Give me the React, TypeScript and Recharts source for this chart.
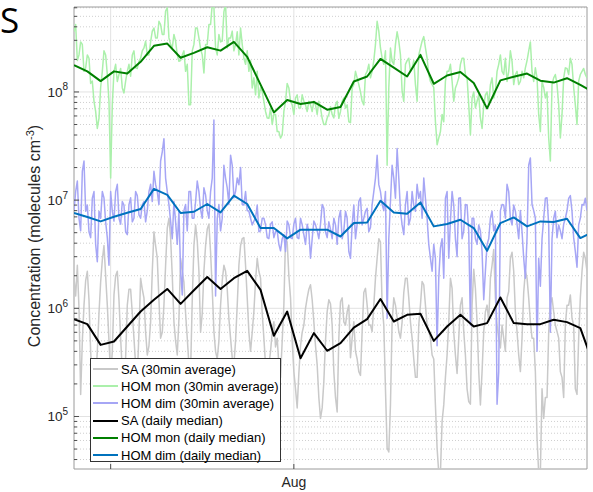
import React from 'react';
import { ComposedChart, Line, XAxis, YAxis, CartesianGrid, ReferenceArea, Legend } from 'recharts';

const FONT = '"Liberation Sans", Arial, Helvetica, sans-serif';

// x axis: days since the first daily median (Jul 15, 12:00)
const X_DOMAIN: [number, number] = [0, 38.5];
const X_TICKS = [2.75, 16.5];
const X_TICK_LABELS = ['', 'Aug'];
const SAMPLE_STEP_DAYS = 0.25; // spacing of the main samples; the "Mid" arrays sit halfway between them

const Y_DOMAIN: [number, number] = [3.27e4, 6.1e8];
const Y_MAJOR_TICKS = [1e5, 1e6, 1e7, 1e8];
const Y_MAJOR_EXPONENTS = ['5', '6', '7', '8'];
const Y_MINOR_TICKS = [
  4e4, 5e4, 6e4, 7e4, 8e4, 9e4,
  2e5, 3e5, 4e5, 5e5, 6e5, 7e5, 8e5, 9e5,
  2e6, 3e6, 4e6, 5e6, 6e6, 7e6, 8e6, 9e6,
  2e7, 3e7, 4e7, 5e7, 6e7, 7e7, 8e7, 9e7,
  2e8, 3e8, 4e8, 5e8, 6e8,
];

// 30 min averages
const saHalfHourly = [
  1.9e6, 2.5e6, 1.6e5, 1.07e6, 2.2e6, 4e5, 2.6e5, 4e5, 1.75e6, 3.8e6,
  1.07e6, 2.3e5, 1.33e6, 2.2e6, 5.3e5, 1.8e5, 1.07e6, 1.5e6, 5.3e5, 2.3e5,
  1.9e6, 1.25e6, 3.7e5, 7.5e5, 5.1e6, 2.9e6, 5.3e5, 1.07e6, 5.5e6, 4.5e6,
  7.5e5, 3.7e5, 2.9e6, 1.75e6, 5.3e5, 2.6e5, 3.8e6, 4.2e6, 6e5, 2.2e6,
  5.4e6, 3.3e6, 6.1e5, 3.4e5, 1.07e6, 2.5e6, 1.5e6, 5.3e5, 3.0e5, 1.07e6,
  3.8e6, 4.5e6, 1.25e6, 4e5, 9.3e5, 2.9e6, 1.9e6, 5.3e5, 2.6e5, 4e5,
  7.5e5, 5.3e5, 2.3e5, 1.07e6, 4.1e6, 1.25e6, 2.6e5, 1.2e5, 4.5e5, 7e5,
  1.25e6, 1.65e6, 7.5e5, 3e5, 9.6e4, 2.1e5, 9.3e5, 1.1e6, 2.6e5, 1.1e5,
  1.15e6, 7.5e5, 9.3e5, 3.5e5, 7.5e5, 3.4e5, 2.4e5, 1.4e6, 1.07e6, 7e5,
  1.07e6, 2.9e6, 4.1e6, 7e5, 5.1e4, 1.28e5, 1.25e6, 8.2e5, 5.3e5, 1.4e6,
  1.9e6, 7.5e5, 3.4e5, 2.3e5, 1.07e6, 1.65e6, 7e5, 5.3e5, 3.4e5, 5.1e4,
  3.0e4, 1.28e5, 3.7e5, 1.9e6, 6e5, 2.5e5, 1.07e6, 6.1e5, 1.8e5, 1.3e5,
  2.3e6, 7.5e5, 1.28e5, 6.1e5, 1.07e6, 1.9e6, 3.5e6, 7e5, 4.3e5, 5.3e5,
  1.25e6, 2.9e6, 2.2e6, 6.1e5, 2.6e5, 1.4e6, 1.9e6, 7.5e5, 5.3e5, 6.3e4,
  3.0e4, 9.6e4, 1.5e5, 1.1e6, 9.3e5, 6.1e5, 2.6e5, 1.5e5, 1.07e6, 1.33e6,
  7e5, 1.6e5, 1.25e6, 3.3e6, 2.2e6,
];
const saHalfHourlyMid = [
  1.3e6, 1.0e6, 5e5, 1.8e6, 1.2e6, 2.0e5, 2.2e5, 9e5, 2.8e6, 2.0e6,
  5e5, 4e5, 2.0e6, 1.2e6, 2.6e5, 3.5e5, 1.5e6, 9e5, 3.0e5, 6e5,
  1.5e6, 6e5, 4.5e5, 2.2e6, 3.8e6, 1.2e6, 6e5, 2.5e6, 6.8e6, 2.0e6,
  5e5, 8e5, 2.2e6, 9e5, 3.0e5, 1.2e6, 5.9e6, 2.2e6, 9e5, 3.8e6,
  6.0e6, 1.5e6, 4e5, 5e5, 1.8e6, 2.2e6, 8e5, 3.5e5, 5e5, 2.5e6,
  4.4e6, 2.5e6, 6e5, 6e5, 1.8e6, 2.2e6, 9e5, 3.0e5, 3.0e5, 6e5,
  4.4e5, 3.0e5, 5e5, 4.5e6, 2.0e6, 5e5, 1.8e5, 2.5e5, 6e5, 1.0e6,
  1.5e6, 1.2e6, 4.5e5, 1.5e5, 1.2e5, 5e5, 1.2e6,
  7e5, 1.5e5, 5.3e5, 1.25e6, 7e5, 1.07e6, 5.3e5, 4e5, 2.6e5, 6.1e5,
  1.53e6, 7e5, 6.1e5, 1.9e6, 4.4e6, 1.07e6, 1.8e5, 4.7e4, 7.5e5, 1.07e6,
  6.1e5, 7.5e5, 1.9e6, 1.25e6, 5.3e5, 2.3e5, 7e5, 1.77e6, 1.07e6, 6.1e5,
  3.7e5, 1.27e5, 3.0e4, 9e4, 2.3e5, 7.5e5, 1.53e6, 3.7e5,
  5.3e5, 1.25e6, 3.7e5, 1.37e5, 1.07e6, 1.53e6, 2.6e5, 2.6e5, 9.3e5, 7.5e5,
  2.5e6, 1.25e6, 5.3e5, 7e5, 4e5, 1.43e6, 3.3e6, 9.3e5, 3.7e5, 5.3e5,
  2.2e6, 1.25e6, 5.3e5, 2.6e5, 3.0e4, 1.8e5, 1.5e5, 6e5, 1.25e6, 7e5,
  5.3e5, 2.3e5, 7e5, 1.07e6, 8.1e5, 1.8e5, 5.3e5, 2.2e6, 2.9e6,
];

const homMonHalfHourly = [
  3.6e8, 1.95e8, 2.9e8, 1.55e8, 2.2e8, 1.2e8, 8.2e7, 4.6e7, 1.1e8, 2.4e8,
  1.45e8, 1.6e7, 1.55e8, 1.25e8, 1.65e8, 9.8e7, 1.55e8, 1.4e8, 2.4e8, 1.65e8,
  2.05e8, 2.55e8, 2.2e8, 2.9e8, 3.9e8, 3.15e8, 4.2e8, 3.4e8, 6e8, 2.75e8,
  3.4e8, 2.2e8, 1.95e8, 2.4e8, 1.8e8, 7.6e7, 2.75e8, 3.9e8, 2.5e8, 1.5e8,
  2.75e8, 4.2e8, 6.1e8, 2.2e8, 2.9e8, 5.5e8, 2.55e8, 3.15e8, 2.4e8, 3.6e8,
  3.9e8, 2.05e8, 2.4e8, 1.95e8, 1.35e8, 1.55e8, 1.1e8, 8.2e7, 5.75e7, 7.1e7,
  6.2e7, 4.3e7, 3.75e7, 6.6e7, 1.2e8, 8.2e7, 6.2e7, 9.4e7, 7.1e7, 8.2e7,
  6.6e7, 7.6e7, 8.2e7, 6.2e7, 7.1e7, 5e7, 5.75e7, 7.3e7, 5.75e7, 8.2e7,
  6.6e7, 8.8e7, 7.6e7, 5.2e7, 1.17e8, 1.35e8, 1.0e8, 7.6e7, 1.55e8, 1.35e8,
  1.95e8, 4.5e8, 2.55e8, 1.8e8, 2.1e7, 2.55e8, 1.8e8, 3.6e8, 2.2e8, 8.2e7,
  1.95e8, 1.55e8, 1.95e8, 8.2e7, 2.55e8, 3.25e8, 2.05e8, 1.25e8, 1.1e8, 3.25e7,
  4.3e7, 5.3e7, 1.55e8, 1.8e8, 8.2e7, 1.2e8, 1.8e8, 2.05e8, 1.35e8, 4e7,
  1.0e8, 8.2e7, 5.75e7, 7.6e7, 1.0e8, 1.17e8, 8.8e7, 1.55e8, 2.2e8, 1.45e8,
  1.25e8, 2.4e8, 1.17e8, 1.55e8, 1.25e8, 1.35e8, 1.95e8, 2.9e8, 1.25e8, 1.35e8,
  4.3e7, 1.1e8, 1.0e8, 2.3e7, 1.35e8, 1.17e8, 3.75e7, 1.35e8, 1.65e8, 2.05e8,
  1.1e8, 5e7, 1.45e8, 1.65e8, 1.35e8,
];
const homMonHalfHourlyMid = [
  4.2e8, 2.2e8, 2.75e8, 1.67e8, 2.05e8, 1.26e8, 6.6e7, 5.7e7, 1.55e8, 2.2e8,
  8.2e7, 7.6e7, 1.8e8, 1.45e8, 1.09e8, 1.26e8, 1.8e8, 2.2e8, 1.67e8, 1.92e8,
  2.4e8, 2.95e8, 2.2e8, 3.65e8, 3.16e8, 4.5e8, 3.4e8, 5.6e8, 3.16e8, 2.55e8,
  2.95e8, 1.92e8, 2.2e8, 1.55e8, 7.6e7, 2.4e8, 3.9e8, 3.16e8, 2.2e8, 2.75e8,
  4.2e8, 6.5e8, 2.55e8, 3.4e8, 2.95e8, 6.5e8, 3.16e8, 3.65e8, 2.75e8, 2.2e8,
  2.75e8, 1.8e8, 1.55e8, 1.09e8, 9.4e7, 8.8e7, 1.01e8, 6.6e7, 5.7e7, 5.0e7,
  6.2e7, 4.3e7, 4.0e7, 8.2e7, 1.09e8, 7.6e7, 8.8e7, 7.1e7, 9.4e7, 7.6e7,
  8.2e7, 6.6e7, 7.6e7, 8.2e7, 5.7e7, 5.0e7, 6.2e7,
  6.2e7, 7.6e7, 5.7e7, 8.2e7, 7.1e7, 5.3e7, 1.09e8, 1.55e8, 1.17e8, 8.2e7,
  1.45e8, 1.8e8, 1.55e8, 2.75e8, 3.65e8, 2.05e8, 2.4e8, 1.09e8, 1.92e8, 2.75e8,
  2.95e8, 1.01e8, 1.8e8, 2.05e8, 1.67e8, 1.17e8, 2.2e8, 2.95e8, 2.55e8, 1.45e8,
  1.17e8, 5.3e7, 3.75e7, 6.2e7, 1.26e8, 1.55e8, 1.26e8, 1.09e8,
  1.35e8, 2.05e8, 1.45e8, 7.6e7, 8.8e7, 7.1e7, 9.4e7, 4.6e7, 9.4e7, 7.6e7,
  1.35e8, 1.01e8, 1.8e8, 1.55e8, 2.05e8, 1.55e8, 1.92e8, 1.45e8, 1.17e8, 1.55e8,
  1.67e8, 2.4e8, 1.55e8, 1.67e8, 6.2e7, 1.26e8, 8.8e7, 3.75e7, 1.17e8, 1.45e8,
  7.6e7, 6.2e7, 1.67e8, 1.45e8, 1.8e8, 7.6e7, 1.26e8, 1.55e8, 1.45e8,
];

const homDimHalfHourly = [
  8.0e6, 1.5e7, 5.2e6, 2.3e7, 9e6, 4.5e6, 1.2e7, 2.7e6, 6.8e6, 1.05e7,
  4.5e6, 1.2e7, 6.4e6, 1.4e7, 6.0e6, 9e6, 4.8e6, 1.05e7, 6.8e6, 1.1e7,
  6.8e6, 9.7e6, 8e6, 1.4e7, 1.85e7, 1.2e7, 2.3e7, 3.7e7, 1.2e7, 6.4e6,
  9.7e6, 3.9e6, 2.2e6, 8e6, 5.2e6, 1.2e7, 6.8e6, 1.5e7, 8.2e6, 1.3e7,
  8e6, 1.2e7, 5.5e7, 6.8e6, 5.2e6, 2.1e7, 1.3e7, 2.6e7, 1.05e7, 1.6e7,
  2e7, 9e6, 8e6, 6.8e6, 6.4e6, 9e6, 5.2e6, 6.8e6, 4.5e6, 6e6,
  4.5e6, 5.2e6, 3.4e6, 4.8e6, 6.4e6, 4.5e6, 6e6, 4.5e6, 6.8e6, 4.8e6,
  6e6, 2.9e6, 6.4e6, 5.2e6, 6e6, 8.4e6, 4.5e6, 5.4e6, 6.8e6, 3.9e6,
  8e6, 5.2e6, 6.8e6, 2.9e6, 9e6, 6e6, 1.05e7, 6.8e6, 8.4e6, 5.6e6,
  1.2e7, 2.6e7, 1.2e7, 8e6, 8.1e5, 9.7e6, 1.6e7, 3.0e7, 8e6, 4.8e6,
  1.2e7, 6.8e6, 9e6, 1.4e7, 1.2e7, 1.6e7, 6.8e6, 2.9e6, 3.9e6, 4.5e5,
  3.6e6, 1.9e6, 1.2e7, 6.4e6, 9e6, 3e6, 1.05e7, 5.2e6, 9e6, 7e5,
  6.8e6, 3.9e6, 5.2e6, 1.2e6, 3.9e6, 6.8e6, 5.2e6, 1.3e5, 8e6, 9e6,
  1.4e7, 6.8e6, 9e6, 6e6, 8e6, 2.9e6, 4.5e6, 2.45e7, 8e6, 4e5,
  1.6e6, 6.8e6, 1.05e7, 6e5, 6.8e6, 4.5e6, 5.2e6, 6e6, 8e6, 1.1e7,
  4.5e6, 2.4e6, 6.8e6, 9e6, 8e6,
];
const homDimHalfHourlyMid = [
  1.2e7, 6.8e6, 1.84e7, 7.9e6, 5.1e6, 1.04e7, 3.9e6, 7.9e6, 1.2e7, 6.3e6,
  2.5e6, 7.9e6, 1.2e7, 6.8e6, 9.7e6, 5.1e6, 9.1e6, 6.3e6, 1.2e7, 7.3e6,
  9.1e6, 6.3e6, 1.2e7, 9.7e6, 1.39e7, 9.1e6, 2.8e7, 1.6e7, 9.1e6, 4.4e6,
  6.3e6, 7.9e6, 1.33e6, 9.1e6, 1.2e7, 6.8e6, 9.7e6, 1.2e7, 6.8e6, 1.12e7,
  6.8e6, 1.6e7, 1.3e6, 9.1e6, 6.8e6, 1.6e7, 9.1e6, 2.1e7, 1.2e7, 1.39e7,
  9.1e6, 1.2e7, 7.9e6, 5.9e6, 6.8e6, 5.1e6, 6.8e6, 5.9e6, 4.4e6, 6.3e6,
  5.1e6, 3.9e6, 4.4e6, 3.35e6, 5.9e6, 4.4e6, 6.8e6, 4.4e6, 5.9e6, 3.9e6,
  5.1e6, 4.4e6, 5.9e6, 4.4e6, 9.1e6, 5.1e6, 6.3e6,
  4.4e6, 5.9e6, 6.8e6, 4.4e6, 7.9e6, 3.35e6, 5.9e6, 4.4e6, 9.7e6, 5.9e6,
  7.9e6, 5.1e6, 9.1e6, 1.6e7, 1.39e7, 9.1e6, 1.2e7, 4.4e6, 2.1e7, 1.04e7,
  1.6e7, 5.9e6, 9.1e6, 5.9e6, 1.2e7, 7.9e6, 1.04e7, 6.8e6, 1.04e7, 3.9e6,
  2.2e6, 2.9e6, 1.9e6, 4.4e6, 1.04e7, 2.9e6, 1.2e7, 4.4e6,
  1.04e7, 4.4e6, 9.1e6, 5.1e6, 6.8e6, 4.4e6, 5.9e6, 3.35e6, 2.2e6, 4.4e6,
  7.9e6, 5.9e6, 2.6e5, 9.1e6, 6.8e6, 1.2e7, 5.9e6, 7.9e6, 4.4e6, 5.1e6,
  1.9e6, 2.1e7, 9.1e6, 6.8e6, 2.9e6, 4.4e6, 1.04e7, 5.9e6, 4.4e6, 7.9e6,
  5.9e6, 4.4e6, 6.8e6, 1.04e7, 7.9e6, 3.35e6, 5.9e6, 9.1e6, 1.04e7,
];

// daily medians (one per day, at noon)
const saDaily = [
  7.94e5, 7.14e5, 4.59e5, 4.93e5, 6.79e5, 9.34e5, 1.2e6, 1.51e6, 1.1e6, 1.47e6,
  1.95e6, 1.51e6, 1.9e6, 2.22e6, 1.48e6, 5.57e5, 9.34e5, 3.46e5, 5.9e5, 4.05e5,
  4.77e5, 6.64e5, 7.94e5, 1.22e6, 7.55e5, 8.71e5, 8.9e5, 5.0e5, 6.79e5, 8.71e5,
  6.79e5, 7.3e5, 1.26e6, 7.3e5, 7.14e5, 7.14e5, 7.83e5, 7.45e5, 6.56e5, 3.0e5,
];
const homMonDaily = [
  1.77e8, 1.55e8, 1.26e8, 1.55e8, 1.48e8, 1.9e8, 2.67e8, 2.8e8, 2.07e8, 2.3e8,
  2.59e8, 2.41e8, 2.9e8, 2.11e8, 1.17e8, 6.47e7, 8.43e7, 7.74e7, 8.08e7, 6.85e7,
  7.26e7, 1.25e8, 1.39e8, 2.02e8, 1.68e8, 1.39e8, 2.2e8, 1.19e8, 1.42e8, 1.53e8,
  1.21e8, 7.05e7, 1.28e8, 1.38e8, 1.48e8, 1.27e8, 1.22e8, 1.34e8, 1.16e8, 9.9e7,
];
const homDimDaily = [
  7.6e6, 6.98e6, 6.36e6, 7.02e6, 7.64e6, 8.27e6, 1.27e7, 1.12e7, 7.6e6, 7.81e6,
  9.21e6, 7.7e6, 1.1e7, 9.21e6, 5.52e6, 5.52e6, 4.43e6, 5.33e6, 5.33e6, 5.33e6,
  4.61e6, 6.14e6, 6.22e6, 9.87e6, 7.7e6, 7.48e6, 9.53e6, 5.72e6, 6.01e6, 6.59e6,
  5.52e6, 3.4e6, 6.14e6, 6.92e6, 5.72e6, 6.36e6, 6.27e6, 6.73e6, 4.46e6, 5.13e6,
];

// rows: main samples interleaved with the halfway samples
function halfHourlyRows(main: number[], mid: number[]) {
  const rows: { t: number; v: number }[] = [];
  main.forEach((v, i) => {
    rows.push({ t: i * SAMPLE_STEP_DAYS, v });
    if (mid[i] !== undefined) rows.push({ t: (i + 0.5) * SAMPLE_STEP_DAYS, v: mid[i] });
  });
  return rows;
}
function dailyRows(values: number[]) {
  return values.map((v, k) => ({ t: k, v }));
}

const SERIES = [
  { key: 'sa30', name: 'SA (30min average)', color: '#c9c9c9', width: 1.5, rows: halfHourlyRows(saHalfHourly, saHalfHourlyMid) },
  { key: 'mon30', name: 'HOM mon (30min average)', color: '#abf0ab', width: 1.5, rows: halfHourlyRows(homMonHalfHourly, homMonHalfHourlyMid) },
  { key: 'dim30', name: 'HOM dim (30min average)', color: '#a6a6f5', width: 1.5, rows: halfHourlyRows(homDimHalfHourly, homDimHalfHourlyMid) },
  { key: 'saD', name: 'SA (daily median)', color: '#000000', width: 2, rows: dailyRows(saDaily) },
  { key: 'monD', name: 'HOM mon (daily median)', color: '#007f00', width: 2, rows: dailyRows(homMonDaily) },
  { key: 'dimD', name: 'HOM dim (daily median)', color: '#0072bd', width: 2, rows: dailyRows(homDimDaily) },
];

const TICK_COLOR = '#4d4d4d';

function LeftTick(props: any) {
  const { x, y, payload } = props;
  const idx = Y_MAJOR_TICKS.indexOf(payload.value);
  const major = idx >= 0;
  return (
    <g>
      <line x1={x} x2={x + (major ? 5 : 3)} y1={y} y2={y} stroke={TICK_COLOR} strokeWidth={1} />
      {major && (
        <text x={x - 6} y={y + 5} textAnchor="end" fontSize={13.5} fill="#262626" fontFamily={FONT}>
          10<tspan dy={-6.5} fontSize={10}>{Y_MAJOR_EXPONENTS[idx]}</tspan>
        </text>
      )}
    </g>
  );
}

function RightTick(props: any) {
  const { x, y, payload } = props;
  const major = Y_MAJOR_TICKS.indexOf(payload.value) >= 0;
  return <line x1={x - (major ? 5 : 3)} x2={x} y1={y} y2={y} stroke={TICK_COLOR} strokeWidth={1} />;
}

function BottomTick(props: any) {
  const { x, y, payload } = props;
  const idx = X_TICKS.indexOf(payload.value);
  return (
    <g>
      <line x1={x} x2={x} y1={y} y2={y - 5} stroke={TICK_COLOR} strokeWidth={1} />
      <text x={x} y={y + 18} textAnchor="middle" fontSize={14} fill="#262626" fontFamily={FONT}>
        {X_TICK_LABELS[idx]}
      </text>
    </g>
  );
}

function TopTick(props: any) {
  const { x, y } = props;
  return <line x1={x} x2={x} y1={y} y2={y + 5} stroke={TICK_COLOR} strokeWidth={1} />;
}

function LegendBox() {
  return (
    <div
      style={{
        boxSizing: 'border-box',
        width: 191,
        height: 104,
        border: '1px solid #333',
        background: '#fff',
        paddingTop: 1.5,
        paddingLeft: 2,
        fontFamily: FONT,
      }}
    >
      {SERIES.map((s) => (
        <div key={s.key} style={{ display: 'flex', alignItems: 'center', height: 17.2 }}>
          <svg width={25} height={4} style={{ display: 'block' }}>
            <line x1={0} x2={25} y1={2} y2={2} stroke={s.color} strokeWidth={2} />
          </svg>
          <span style={{ marginLeft: 3, fontSize: 13, lineHeight: '13px', color: '#000', whiteSpace: 'nowrap' }}>
            {s.name}
          </span>
        </div>
      ))}
    </div>
  );
}

export default function App() {
  return (
    <div style={{ position: 'absolute', left: 0, top: 0, width: 593, height: 492, background: '#fff' }}>
      <ComposedChart width={593} height={492} margin={{ top: 7, right: 6, bottom: 0, left: 0 }}>
        <CartesianGrid
          xAxisId="bottom"
          yAxisId="left"
          horizontalValues={Y_MINOR_TICKS}
          vertical={false}
          stroke="#cfcfcf"
          strokeDasharray="1 2"
        />
        <CartesianGrid
          xAxisId="bottom"
          yAxisId="left"
          horizontalValues={Y_MAJOR_TICKS}
          verticalValues={X_TICKS}
          stroke="#e2e2e2"
        />
        <XAxis
          xAxisId="bottom"
          type="number"
          dataKey="t"
          domain={X_DOMAIN}
          allowDataOverflow
          ticks={X_TICKS}
          interval={0}
          height={23}
          axisLine={false}
          tickLine={false}
          tickSize={0}
          tickMargin={0}
          tick={<BottomTick />}
        />
        <XAxis
          xAxisId="top"
          orientation="top"
          type="number"
          dataKey="t"
          domain={X_DOMAIN}
          allowDataOverflow
          ticks={X_TICKS}
          interval={0}
          height={0}
          axisLine={false}
          tickLine={false}
          tickSize={0}
          tickMargin={0}
          tick={<TopTick />}
        />
        <YAxis
          yAxisId="left"
          scale="log"
          type="number"
          domain={Y_DOMAIN}
          allowDataOverflow
          ticks={[...Y_MINOR_TICKS, ...Y_MAJOR_TICKS]}
          interval={0}
          width={74}
          axisLine={false}
          tickLine={false}
          tickSize={0}
          tickMargin={0}
          tick={<LeftTick />}
        />
        <YAxis
          yAxisId="right"
          orientation="right"
          scale="log"
          type="number"
          domain={Y_DOMAIN}
          allowDataOverflow
          ticks={[...Y_MINOR_TICKS, ...Y_MAJOR_TICKS]}
          interval={0}
          width={0}
          axisLine={false}
          tickLine={false}
          tickSize={0}
          tickMargin={0}
          tick={<RightTick />}
        />
        {SERIES.map((s) => (
          <Line
            key={s.key}
            xAxisId="bottom"
            yAxisId="left"
            data={s.rows}
            dataKey="v"
            name={s.name}
            type="linear"
            stroke={s.color}
            strokeWidth={s.width}
            strokeLinejoin="round"
            dot={false}
            activeDot={false}
            isAnimationActive={false}
          />
        ))}
        <ReferenceArea
          xAxisId="bottom"
          yAxisId="left"
          x1={X_DOMAIN[0]}
          x2={X_DOMAIN[1]}
          y1={Y_DOMAIN[0]}
          y2={Y_DOMAIN[1]}
          fill="none"
          stroke="#9a9a9a"
          strokeWidth={1}
        />
        <Legend
          layout="vertical"
          align="center"
          verticalAlign="middle"
          content={() => <LegendBox />}
          wrapperStyle={{ left: 90, top: 358, width: 191, height: 104 }}
        />
      </ComposedChart>
      <svg
        width={593}
        height={492}
        style={{ position: 'absolute', left: 0, top: 0, pointerEvents: 'none' }}
      >
        <text x={0} y={33} fontSize={35} fontFamily='"Open Sans", "Liberation Sans", Arial, sans-serif' fill="#000">S</text>
        <text
          transform="translate(40,236) rotate(-90)"
          textAnchor="middle"
          fontSize={16}
          fill="#262626"
          fontFamily={FONT}
        >
          Concentration (molecules cm<tspan dy={-6} fontSize={11}>-3</tspan><tspan dy={6}>)</tspan>
        </text>
      </svg>
    </div>
  );
}
